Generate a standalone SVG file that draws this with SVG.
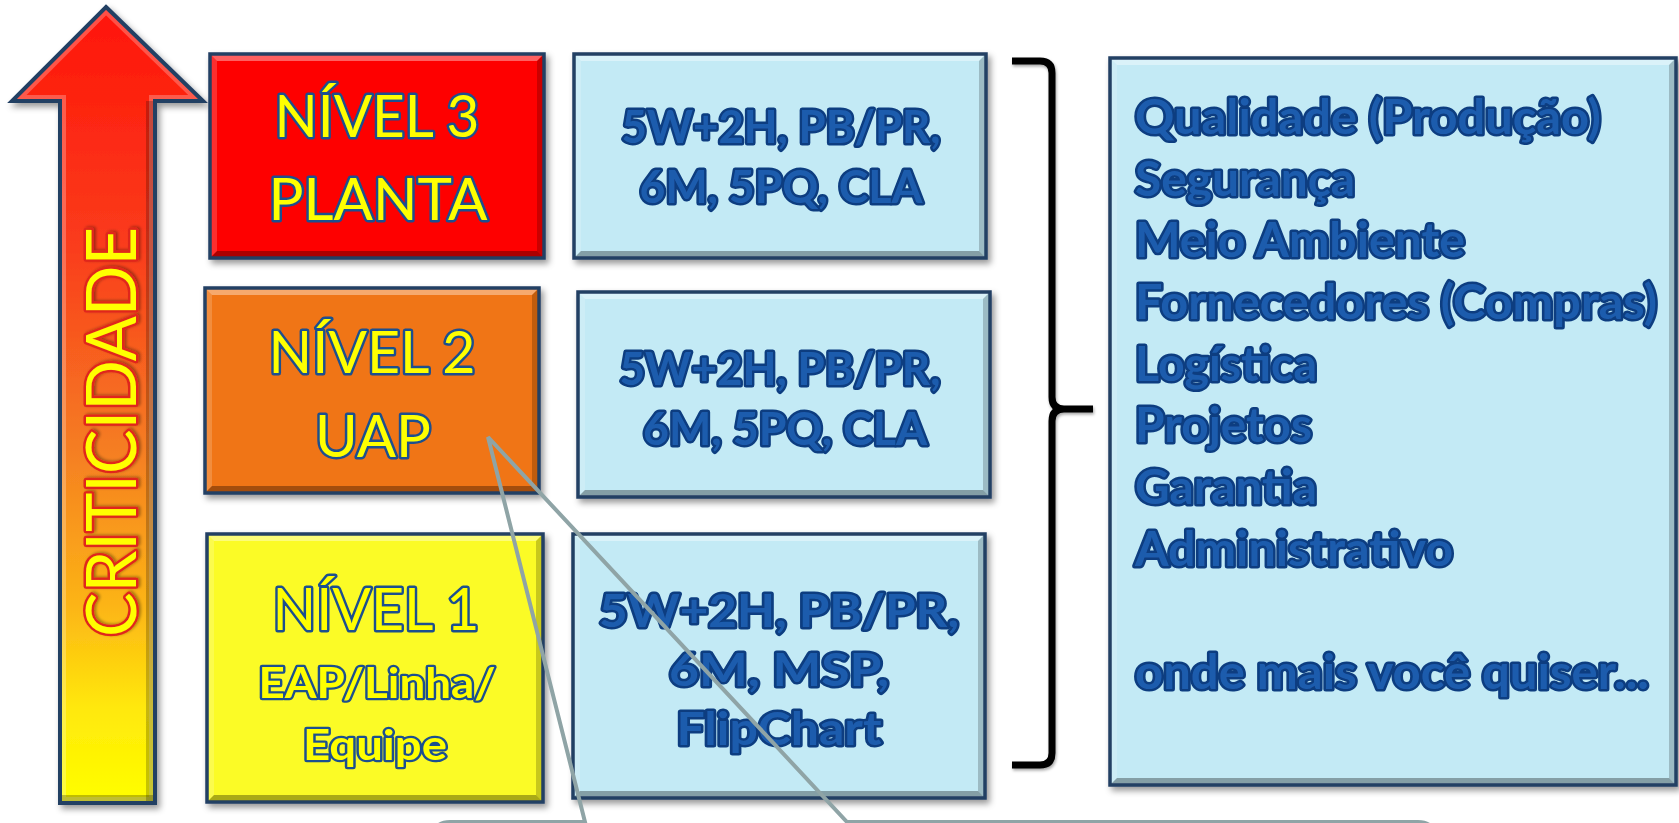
<svg xmlns="http://www.w3.org/2000/svg" width="1679" height="823" viewBox="0 0 1679 823">
  <style>
    .frame { stroke: #243f63; stroke-width: 3.5; }
    .hi { fill: #ffffff; fill-opacity: 0.38; }
    .hi2 { fill: #ffffff; fill-opacity: 0.18; }
    .lo { fill: #000000; fill-opacity: 0.32; }
    .lo2 { fill: #000000; fill-opacity: 0.2; }
    .red { fill: #fe0000; }
    .orange { fill: #f07414; }
    .yellow { fill: #fbfb26; }
    .sky { fill: #c3eaf5; }
    .lvl { font-family: Lato, "Open Sans", sans-serif; font-size: 58px; fill: #ffff00; stroke: #1b4f8f; stroke-width: 5; paint-order: stroke; stroke-linejoin: round; text-anchor: middle; }
    .lvl-sub { font-weight: bold; font-size: 42px; stroke-width: 4.5; }
    .tool { font-family: Lato, "Open Sans", sans-serif; font-weight: bold; font-size: 46px; fill: #1e5cad; stroke: #0c3d80; stroke-width: 5; paint-order: stroke; stroke-linejoin: round; text-anchor: middle; }
    .area { font-family: Lato, "Open Sans", sans-serif; font-weight: bold; font-size: 47px; fill: #1e5cad; stroke: #0c3d80; stroke-width: 5; paint-order: stroke; stroke-linejoin: round; }
    .crit { font-family: Lato, "Open Sans", sans-serif; font-size: 69px; fill: #ffff00; stroke: #e0281c; stroke-width: 5; paint-order: stroke; stroke-linejoin: round; text-anchor: middle; }
    .brace { fill: none; stroke: #000000; stroke-width: 7; stroke-linejoin: round; }
    .callout { fill: none; stroke: #8fa4a6; stroke-width: 4; stroke-linejoin: miter; }
  </style>
  <defs>
    <filter id="shadow" x="-10%" y="-10%" width="120%" height="120%">
      <feDropShadow dx="3" dy="4" stdDeviation="3" flood-color="#000000" flood-opacity="0.4"/>
    </filter>
    <filter id="glow" x="-10%" y="-20%" width="120%" height="140%">
      <feDropShadow dx="1" dy="2" stdDeviation="1.5" flood-color="#000000" flood-opacity="0.35"/>
    </filter>
    <linearGradient id="heat" x1="0" y1="7" x2="0" y2="803" gradientUnits="userSpaceOnUse">
      <stop offset="0" stop-color="#ff1408"/>
      <stop offset="0.3" stop-color="#fa3c1c"/>
      <stop offset="0.55" stop-color="#f57c22"/>
      <stop offset="0.75" stop-color="#fcb416"/>
      <stop offset="0.88" stop-color="#ffe80a"/>
      <stop offset="1" stop-color="#ffff00"/>
    </linearGradient>
    <clipPath id="arrowClip">
      <path d="M106 7L203 101H155V803H60V101H12Z"/>
    </clipPath>
  </defs>

  <rect width="1679" height="823" fill="#ffffff"/>

  <!-- criticality arrow -->
  <g id="criticidade">
    <g filter="url(#shadow)">
      <path d="M106 7L203 101H155V803H60V101H12Z" fill="url(#heat)"/>
      <g clip-path="url(#arrowClip)">
        <path d="M106 7L203 101H155V803H60V101H12Z" fill="none" stroke="#ffffff" stroke-opacity="0.25" stroke-width="12"/>
        <rect x="146" y="101" width="9" height="702" fill="#000000" fill-opacity="0.22"/>
        <rect x="60" y="795" width="95" height="8" fill="#000000" fill-opacity="0.25"/>
      </g>
      <path d="M106 7L203 101H155V803H60V101H12Z" fill="none" stroke="#243f63" stroke-width="4" stroke-linejoin="miter"/>
    </g>
    <text class="crit" transform="translate(136,432) rotate(-90)" x="0" y="0" textLength="410" lengthAdjust="spacingAndGlyphs" filter="url(#glow)">CRITICIDADE</text>
  </g>

  <!-- level 3 -->
  <g id="nivel3" filter="url(#shadow)">
    <rect class="red" x="210" y="54" width="334" height="204"/>
    <path class="hi" d="M210 54h334l-7 7h-320z"/>
    <path class="hi2" d="M210 54l7 7v190l-7 7z"/>
    <path class="lo" d="M210 258l7-7h320l7 7z"/>
    <path class="lo2" d="M544 54v204l-7-7v-190z"/>
    <rect class="frame" x="210" y="54" width="334" height="204" fill="none"/>
    <text class="lvl" x="377" y="137" textLength="205" lengthAdjust="spacingAndGlyphs">NÍVEL 3</text>
    <text class="lvl" x="378" y="220" textLength="219" lengthAdjust="spacingAndGlyphs">PLANTA</text>
  </g>

  <!-- level 2 -->
  <g id="nivel2" filter="url(#shadow)">
    <rect class="orange" x="205" y="288" width="334" height="205"/>
    <path class="hi" d="M205 288h334l-7 7h-320z"/>
    <path class="hi2" d="M205 288l7 7v191l-7 7z"/>
    <path class="lo" d="M205 493l7-7h320l7 7z"/>
    <path class="lo2" d="M539 288v205l-7-7v-191z"/>
    <rect class="frame" x="205" y="288" width="334" height="205" fill="none"/>
    <text class="lvl" x="372" y="373" textLength="207" lengthAdjust="spacingAndGlyphs">NÍVEL 2</text>
    <text class="lvl" x="373" y="457" textLength="116" lengthAdjust="spacingAndGlyphs">UAP</text>
  </g>

  <!-- level 1 -->
  <g id="nivel1" filter="url(#shadow)">
    <rect class="yellow" x="207" y="534" width="336" height="268"/>
    <path class="hi" d="M207 534h336l-7 7h-322z"/>
    <path class="hi2" d="M207 534l7 7v254l-7 7z"/>
    <path class="lo" d="M207 802l7-7h322l7 7z"/>
    <path class="lo2" d="M543 534v268l-7-7v-254z"/>
    <rect class="frame" x="207" y="534" width="336" height="268" fill="none"/>
    <text class="lvl" x="376" y="630" textLength="207" lengthAdjust="spacingAndGlyphs">NÍVEL 1</text>
    <text class="lvl lvl-sub" x="377" y="698" textLength="237" lengthAdjust="spacingAndGlyphs">EAP/Linha/</text>
    <text class="lvl lvl-sub" x="375" y="760" textLength="144" lengthAdjust="spacingAndGlyphs">Equipe</text>
  </g>

  <!-- tools for level 3 -->
  <g id="ferramentas3" filter="url(#shadow)">
    <rect class="sky" x="574" y="54" width="412" height="204"/>
    <path class="hi" d="M574 54h412l-7 7h-398z"/>
    <path class="hi2" d="M574 54l7 7v190l-7 7z"/>
    <path class="lo" d="M574 258l7-7h398l7 7z"/>
    <path class="lo2" d="M986 54v204l-7-7v-190z"/>
    <rect class="frame" x="574" y="54" width="412" height="204" fill="none"/>
    <text class="tool" x="781" y="143" textLength="319" lengthAdjust="spacingAndGlyphs">5W+2H, PB/PR,</text>
    <text class="tool" x="781" y="203" textLength="283" lengthAdjust="spacingAndGlyphs">6M, 5PQ, CLA</text>
  </g>

  <!-- tools for level 2 -->
  <g id="ferramentas2" filter="url(#shadow)">
    <rect class="sky" x="578" y="292" width="412" height="205"/>
    <path class="hi" d="M578 292h412l-7 7h-398z"/>
    <path class="hi2" d="M578 292l7 7v191l-7 7z"/>
    <path class="lo" d="M578 497l7-7h398l7 7z"/>
    <path class="lo2" d="M990 292v205l-7-7v-191z"/>
    <rect class="frame" x="578" y="292" width="412" height="205" fill="none"/>
    <text class="tool" x="780" y="385" textLength="321" lengthAdjust="spacingAndGlyphs">5W+2H, PB/PR,</text>
    <text class="tool" x="785" y="445" textLength="284" lengthAdjust="spacingAndGlyphs">6M, 5PQ, CLA</text>
  </g>

  <!-- tools for level 1 -->
  <g id="ferramentas1" filter="url(#shadow)">
    <rect class="sky" x="573" y="534" width="412" height="264"/>
    <path class="hi" d="M573 534h412l-7 7h-398z"/>
    <path class="hi2" d="M573 534l7 7v250l-7 7z"/>
    <path class="lo" d="M573 798l7-7h398l7 7z"/>
    <path class="lo2" d="M985 534v264l-7-7v-250z"/>
    <rect class="frame" x="573" y="534" width="412" height="264" fill="none"/>
    <text class="tool" x="779" y="627" textLength="360" lengthAdjust="spacingAndGlyphs">5W+2H, PB/PR,</text>
    <text class="tool" x="779" y="686" textLength="220" lengthAdjust="spacingAndGlyphs">6M, MSP,</text>
    <text class="tool" x="779" y="745" textLength="205" lengthAdjust="spacingAndGlyphs">FlipChart</text>
  </g>

  <!-- areas of application -->
  <g id="areas" filter="url(#shadow)">
    <rect class="sky" x="1110" y="58" width="566" height="727"/>
    <path class="hi" d="M1110 58h566l-7 7h-552z"/>
    <path class="hi2" d="M1110 58l7 7v713l-7 7z"/>
    <path class="lo" d="M1110 785l7-7h552l7 7z"/>
    <path class="lo2" d="M1676 58v727l-7-7v-713z"/>
    <rect class="frame" x="1110" y="58" width="566" height="727" fill="none"/>
    <text class="area" x="1135" y="134" textLength="466" lengthAdjust="spacingAndGlyphs">Qualidade (Produção)</text>
    <text class="area" x="1135" y="196" textLength="220" lengthAdjust="spacingAndGlyphs">Segurança</text>
    <text class="area" x="1135" y="257" textLength="330" lengthAdjust="spacingAndGlyphs">Meio Ambiente</text>
    <text class="area" x="1135" y="319" textLength="522" lengthAdjust="spacingAndGlyphs">Fornecedores (Compras)</text>
    <text class="area" x="1135" y="381" textLength="182" lengthAdjust="spacingAndGlyphs">Logística</text>
    <text class="area" x="1135" y="442" textLength="177" lengthAdjust="spacingAndGlyphs">Projetos</text>
    <text class="area" x="1135" y="504" textLength="182" lengthAdjust="spacingAndGlyphs">Garantia</text>
    <text class="area" x="1135" y="566" textLength="318" lengthAdjust="spacingAndGlyphs">Administrativo</text>
    <text class="area" x="1135" y="689" textLength="514" lengthAdjust="spacingAndGlyphs">onde mais você quiser...</text>
  </g>

  <!-- connectors: grouping brace and callout pointer -->
  <g id="connectors">
    <path class="brace" filter="url(#glow)" d="M1012 61H1040Q1052 61 1052 73V397Q1052 409 1064 409H1093M1064 409Q1052 409 1052 421V753Q1052 765 1040 765H1012"/>
    <path class="callout" d="M433 840Q433 822 450 822H585L488 437L847 822H1418Q1435 822 1435 840"/>
  </g>
</svg>
